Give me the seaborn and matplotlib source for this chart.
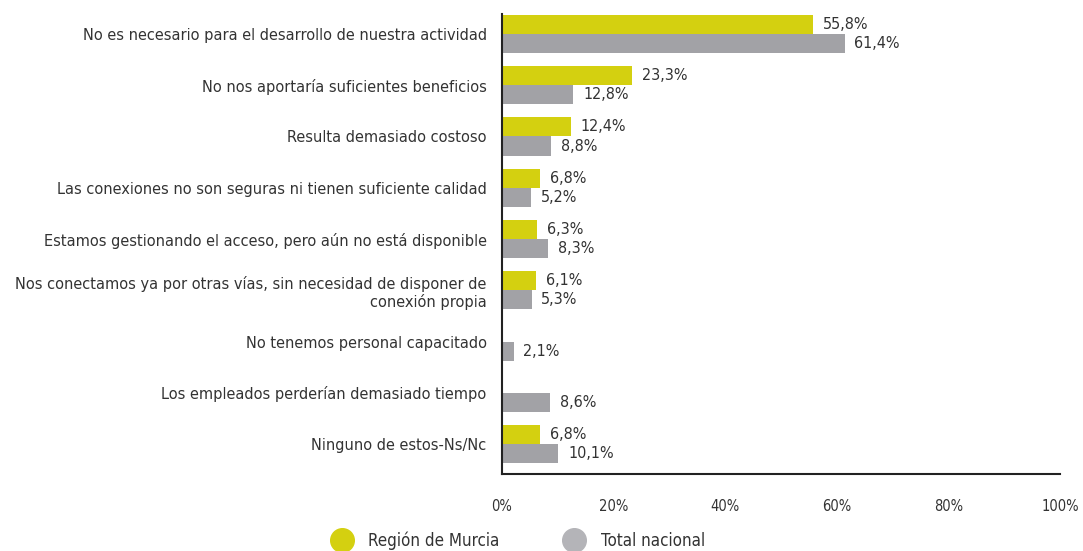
import numpy as np
import pandas as pd
import matplotlib
matplotlib.use("Agg")
import matplotlib.pyplot as plt
from matplotlib.lines import Line2D
import seaborn as sns

categories = [
    "No es necesario para el desarrollo de nuestra actividad",
    "No nos aportaría suficientes beneficios",
    "Resulta demasiado costoso",
    "Las conexiones no son seguras ni tienen suficiente calidad",
    "Estamos gestionando el acceso, pero aún no está disponible",
    "Nos conectamos ya por otras vías, sin necesidad de disponer de\nconexión propia",
    "No tenemos personal capacitado",
    "Los empleados perderían demasiado tiempo",
    "Ninguno de estos-Ns/Nc",
]
murcia = [55.8, 23.3, 12.4, 6.8, 6.3, 6.1, np.nan, np.nan, 6.8]
nacional = [61.4, 12.8, 8.8, 5.2, 8.3, 5.3, 2.1, 8.6, 10.1]
series = ["Región de Murcia", "Total nacional"]
colors = ["#D4D010", "#A2A2A6"]
xticks = [0, 20, 40, 60, 80, 100]

sns.set_theme(style="white")
plt.rcParams["font.family"] = ["DejaVu Sans"]
plt.rcParams["font.stretch"] = "condensed"

df = pd.DataFrame({
    "cat": categories * 2,
    "val": murcia + nacional,
    "serie": [series[0]] * len(categories) + [series[1]] * len(categories),
})

fig = plt.figure(figsize=(10.83, 5.51), dpi=100)
ax = fig.add_axes([502 / 1083, 1 - 474 / 551, (1060 - 502) / 1083, (474 - 14) / 551])

sns.barplot(data=df, y="cat", x="val", hue="serie", order=categories,
            hue_order=series, palette=colors, orient="h", width=0.75,
            dodge=True, legend=False, ax=ax, saturation=1, linewidth=0, gap=0)

ax.set_xlim(0, 100)
ax.set_ylim(8.585, -0.39)
ax.set_xticks(xticks)
ax.set_xticklabels([f"{t}%" for t in xticks], fontsize=10.5, color="#333333")
ax.tick_params(axis="x", pad=18, length=0)
ax.tick_params(axis="y", length=0, pad=11)
for lbl in ax.get_yticklabels():
    lbl.set_fontsize(11.7)
    lbl.set_color("#333333")
    lbl.set_horizontalalignment("right")
ax.set_xlabel("")
ax.set_ylabel("")
for s in ["top", "right"]:
    ax.spines[s].set_visible(False)
for s in ["left", "bottom"]:
    ax.spines[s].set_color("#222222")
    ax.spines[s].set_linewidth(1.5)

for cont in ax.containers:
    labels = []
    for bar in cont:
        w = bar.get_width()
        labels.append("" if (w is None or np.isnan(w)) else f"{w:.1f}%".replace(".", ","))
    ax.bar_label(cont, labels=labels, padding=7, fontsize=11.5, color="#333333")

handles = [Line2D([0], [0], marker="o", linestyle="", markersize=17,
                  markerfacecolor=c, markeredgecolor=c) for c in ["#D4D010", "#B4B4B8"]]
fig.legend(handles, series, loc="center", bbox_to_anchor=(515 / 1083, 1 - 541 / 551),
           ncol=2, frameon=False, fontsize=12.2, columnspacing=3.4, handletextpad=0.55,
           labelcolor="#333333")

fig.savefig("out.png", dpi=100)
